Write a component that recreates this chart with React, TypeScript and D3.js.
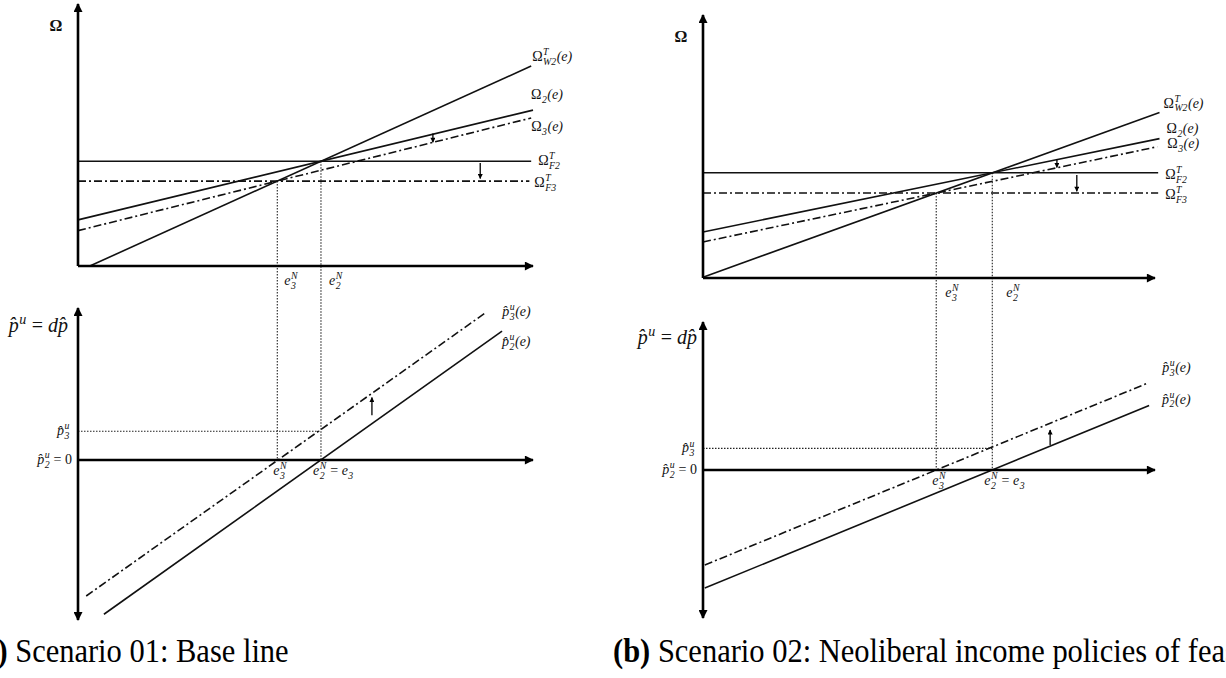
import React, { useEffect, useRef } from 'react'
import * as d3 from 'd3'

const width = 1226
const height = 678

// line endpoints [x0, y0, x1, y1] in axis units (x: 0..100 along e, y: 0..100 up the Ω axis)
// order: Ω_W2^T(e), Ω_2(e), Ω_3(e), Ω_F2^T, Ω_F3^T
const omegaLinesA = [
    [2.6, 0, 99.6, 76.3],
    [0, 17.6, 100, 59.5],
    [0, 13.5, 99.6, 56.5],
    [0, 40, 99.6, 40],
    [0, 32.4, 99.2, 32.4],
]
const omegaLinesB = [
    [0, 0.3, 101, 62.9],
    [0, 17.5, 101, 53.0],
    [0, 13.7, 100.5, 49.9],
    [0, 40, 100.7, 40],
    [0, 32.3, 100.7, 32.3],
]
const omegaDashed = [false, false, true, false, true]

// lower panel: p̂_3^u(e), p̂_2^u(e)
const priceLinesA = [
    [1.8, -85.0, 89.5, 91.9],
    [5.7, -96.4, 93.2, 80.5],
]
const priceLinesB = [
    [0.4, -59.4, 98.5, 54.4],
    [0.4, -73.8, 98.7, 40.3],
]
const priceDashed = [true, false]

// equilibria [e_3^N, e_2^N] and p̂_3^u level
const equilibriaA = [43.8, 53.4]
const equilibriaB = [51.6, 64.0]
const p3LevelA = 18
const p3LevelB = 13.5

// shift arrows [x, from, to]
const omegaShiftsA = [
    [78, 50.6, 47.2],
    [88.4, 39.3, 33.4],
]
const omegaShiftsB = [
    [78.3, 45.2, 42.0],
    [82.7, 39.2, 33.0],
]
const priceShiftA = [64.6, 28, 39]
const priceShiftB = [76.8, 15.6, 25]

const captions = ['(a)', ' Scenario 01: Base line', '(b)', ' Scenario 02: Neoliberal income policies of feasible']

type Part = { t?: string; it?: boolean; sub?: string; sup?: string }

const SERIF = '"Liberation Serif", "Times New Roman", serif'
const hatP = 'p\u0302'

function mathLabel(parent: any, x: number, y: number, parts: Part[], size: number, anchor = 'start') {
    const g = parent.append('g')
    let cx = 0
    parts.forEach(p => {
        if (p.t !== undefined) {
            const t = g.append('text')
                .attr('x', cx)
                .attr('y', 0)
                .attr('font-size', size)
                .attr('font-style', p.it ? 'italic' : 'normal')
                .style('white-space', 'pre')
                .text(p.t)
            cx += t.node().getComputedTextLength()
        } else {
            const s = size * 0.7
            let w = 0
            if (p.sup) {
                const t = g.append('text').attr('x', cx + 0.5).attr('y', -size * 0.42)
                    .attr('font-size', s).attr('font-style', 'italic').text(p.sup)
                w = Math.max(w, t.node().getComputedTextLength())
            }
            if (p.sub) {
                const t = g.append('text').attr('x', cx + 0.5).attr('y', size * 0.28)
                    .attr('font-size', s).attr('font-style', 'italic').text(p.sub)
                w = Math.max(w, t.node().getComputedTextLength())
            }
            cx += w + 1
        }
    })
    const dx = anchor === 'end' ? -cx : anchor === 'middle' ? -cx / 2 : 0
    g.attr('transform', `translate(${x + dx},${y})`)
}

const omegaLabels: Part[][] = [
    [{ t: 'Ω' }, { sup: 'T', sub: 'W2' }, { t: '(e)', it: true }],
    [{ t: 'Ω' }, { sub: '2' }, { t: '(e)', it: true }],
    [{ t: 'Ω' }, { sub: '3' }, { t: '(e)', it: true }],
    [{ t: 'Ω' }, { sup: 'T', sub: 'F2' }],
    [{ t: 'Ω' }, { sup: 'T', sub: 'F3' }],
]
const priceLabels: Part[][] = [
    [{ t: hatP, it: true }, { sup: 'u', sub: '3' }, { t: '(e)', it: true }],
    [{ t: hatP, it: true }, { sup: 'u', sub: '2' }, { t: '(e)', it: true }],
]

function App() {
    const svgRef = useRef<SVGSVGElement>(null)

    useEffect(() => {
        const svg = d3.select(svgRef.current)
        svg.selectAll('*').remove()

        const defs = svg.append('defs')
        const marker = (id: string, w: number, h: number) =>
            defs.append('marker')
                .attr('id', id)
                .attr('viewBox', '0 0 10 10')
                .attr('refX', 9)
                .attr('refY', 5)
                .attr('markerWidth', w)
                .attr('markerHeight', h)
                .attr('markerUnits', 'userSpaceOnUse')
                .attr('orient', 'auto-start-reverse')
                .append('path')
                .attr('d', 'M0,0 L10,5 L0,10 Z')
                .attr('fill', '#000')
        marker('axisHead', 12, 9)
        marker('smallHead', 6, 5)

        const panels = [
            {
                x: d3.scaleLinear().domain([0, 100]).range([78, 533]),
                yTop: d3.scaleLinear().domain([0, 100]).range([266, 4]),
                yBot: d3.scaleLinear().domain([-100, 95]).range([620, 308]),
                omega: omegaLinesA, price: priceLinesA, eq: equilibriaA, p3: p3LevelA,
                shifts: omegaShiftsA, pShift: priceShiftA,
                omegaOff: [[1, -5], [-2, -11], [0, 13], [7, 4], [5, 6]],
                priceOff: [[17, 3], [0, 15]],
                eTopDx: [7, 8],
                pAxisDx: -10, pAxisDy: 24,
            },
            {
                x: d3.scaleLinear().domain([0, 100]).range([703, 1155]),
                yTop: d3.scaleLinear().domain([0, 100]).range([278, 15]),
                yBot: d3.scaleLinear().domain([-92.5, 92.5]).range([618, 322]),
                omega: omegaLinesB, price: priceLinesB, eq: equilibriaB, p3: p3LevelB,
                shifts: omegaShiftsB, pShift: priceShiftB,
                omegaOff: [[4, -5], [7, -6], [10, 1], [7, 6], [7, 6]],
                priceOff: [[14, -11], [13, -2]],
                eTopDx: [9, 14],
                pAxisDx: -6, pAxisDy: 22,
            },
        ]

        panels.forEach(p => {
            const g = svg.append('g').attr('font-family', SERIF).attr('fill', '#111')
            const xMax = p.x.domain()[1]
            const x0 = p.x(0)

            // dotted guides
            const dotted = g.append('g').attr('stroke', '#222').attr('stroke-width', 1.1).attr('stroke-dasharray', '1.5,1.5')
            dotted.append('line')
                .attr('x1', p.x(p.eq[0])).attr('x2', p.x(p.eq[0]))
                .attr('y1', p.yTop(p.omega[4][1])).attr('y2', p.yBot(0))
            dotted.append('line')
                .attr('x1', p.x(p.eq[1])).attr('x2', p.x(p.eq[1]))
                .attr('y1', p.yTop(p.omega[3][1])).attr('y2', p.yBot(0))
            dotted.append('line')
                .attr('x1', p.x(0)).attr('x2', p.x(p.eq[1]))
                .attr('y1', p.yBot(p.p3)).attr('y2', p.yBot(p.p3))

            // curves
            const drawLines = (data: number[][], dashed: boolean[], y: any) =>
                g.append('g').selectAll('line').data(data).join('line')
                    .attr('x1', d => p.x(d[0])).attr('y1', d => y(d[1]))
                    .attr('x2', d => p.x(d[2])).attr('y2', d => y(d[3]))
                    .attr('stroke', '#111')
                    .attr('stroke-width', 1.6)
                    .attr('stroke-dasharray', (d, i) => (dashed[i] ? '8,3,2,3' : null))
            drawLines(p.omega, omegaDashed, p.yTop)
            drawLines(p.price, priceDashed, p.yBot)

            // axes
            const axes = g.append('g').attr('stroke', '#000').attr('stroke-width', 2.6)
            axes.append('line')
                .attr('x1', x0).attr('y1', p.yTop(0)).attr('x2', x0).attr('y2', p.yTop(100))
                .attr('marker-end', 'url(#axisHead)')
            axes.append('line')
                .attr('x1', x0).attr('y1', p.yTop(0)).attr('x2', p.x(xMax)).attr('y2', p.yTop(0))
                .attr('marker-end', 'url(#axisHead)')
            const [bLo, bHi] = p.yBot.domain()
            axes.append('line')
                .attr('x1', x0).attr('y1', p.yBot(bLo)).attr('x2', x0).attr('y2', p.yBot(bHi))
                .attr('marker-start', 'url(#axisHead)')
                .attr('marker-end', 'url(#axisHead)')
            axes.append('line')
                .attr('x1', x0).attr('y1', p.yBot(0)).attr('x2', p.x(xMax)).attr('y2', p.yBot(0))
                .attr('marker-end', 'url(#axisHead)')

            // shift arrows
            const arrows = g.append('g').attr('stroke', '#000').attr('stroke-width', 1.3)
            p.shifts.forEach(s => {
                arrows.append('line')
                    .attr('x1', p.x(s[0])).attr('x2', p.x(s[0]))
                    .attr('y1', p.yTop(s[1])).attr('y2', p.yTop(s[2]))
                    .attr('marker-end', 'url(#smallHead)')
            })
            arrows.append('line')
                .attr('x1', p.x(p.pShift[0])).attr('x2', p.x(p.pShift[0]))
                .attr('y1', p.yBot(p.pShift[1])).attr('y2', p.yBot(p.pShift[2]))
                .attr('marker-end', 'url(#smallHead)')

            // labels
            const omegaAxis = g.append('text')
                .attr('x', x0 - 22).attr('y', p.yTop(100) + 27)
                .attr('text-anchor', 'middle').attr('font-size', 16).attr('font-weight', 'bold')
                .text('Ω')
            omegaAxis.attr('fill', '#111')
            p.omega.forEach((d, i) => {
                const [ox, oy] = p.omegaOff[i]
                mathLabel(g, p.x(d[2]) + ox, p.yTop(d[3]) + oy, omegaLabels[i], 14)
            })
            p.price.forEach((d, i) => {
                const [ox, oy] = p.priceOff[i]
                mathLabel(g, p.x(d[2]) + ox, p.yBot(d[3]) + oy, priceLabels[i], 14)
            })
            mathLabel(g, p.x(p.eq[0]) + p.eTopDx[0], p.yTop(0) + 19, [{ t: 'e', it: true }, { sup: 'N', sub: '3' }], 14)
            mathLabel(g, p.x(p.eq[1]) + p.eTopDx[1], p.yTop(0) + 19, [{ t: 'e', it: true }, { sup: 'N', sub: '2' }], 14)
            mathLabel(g, p.x(p.eq[0]) - 4, p.yBot(0) + 15, [{ t: 'e', it: true }, { sup: 'N', sub: '3' }], 14)
            mathLabel(g, p.x(p.eq[1]) - 8, p.yBot(0) + 15,
                [{ t: 'e', it: true }, { sup: 'N', sub: '2' }, { t: ' = ' }, { t: 'e', it: true }, { sub: '3' }], 14)
            mathLabel(g, x0 + p.pAxisDx, p.yBot(bHi) + p.pAxisDy,
                [{ t: hatP, it: true }, { sup: 'u' }, { t: ' = ' }, { t: 'd', it: true }, { t: hatP, it: true }], 20, 'end')
            mathLabel(g, x0 - 8, p.yBot(p.p3) + 4, [{ t: hatP, it: true }, { sup: 'u', sub: '3' }], 14, 'end')
            mathLabel(g, x0 - 6, p.yBot(0) + 4, [{ t: hatP, it: true }, { sup: 'u', sub: '2' }, { t: ' = 0' }], 14, 'end')
        })

        // captions
        const cap = svg.append('g').attr('font-family', '"Liberation Serif", serif').attr('font-size', 30.5).attr('fill', '#000')
        const c1 = cap.append('text').attr('transform', 'translate(-28,662) scale(1,1.1)').style('white-space', 'pre')
        c1.append('tspan').attr('font-weight', 'bold').text(captions[0])
        c1.append('tspan').text(captions[1])
        const c2 = cap.append('text').attr('transform', 'translate(613,662) scale(1,1.1)').style('white-space', 'pre')
        c2.append('tspan').attr('font-weight', 'bold').text(captions[2])
        c2.append('tspan').text(captions[3])
    }, [])

    return (
        <svg
            ref={svgRef}
            width={width}
            height={height}
            style={{ position: 'absolute', left: 0, top: 0, background: '#fff' }}
        />
    )
}

export default App
